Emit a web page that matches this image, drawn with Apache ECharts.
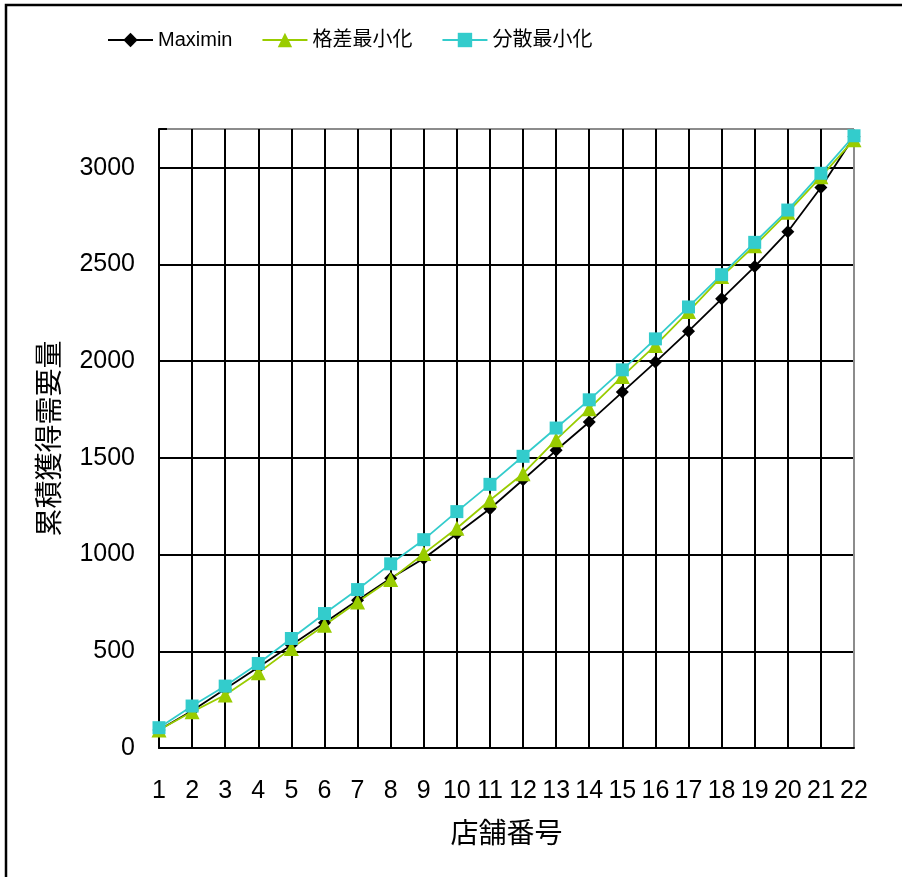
<!DOCTYPE html>
<html>
<head>
<meta charset="utf-8">
<script src="https://cdn.jsdelivr.net/npm/echarts@6/dist/echarts.min.js"></script>
<style>
  html, body { margin: 0; padding: 0; background: #fff; }
  #chartArea { width: 902px; height: 877px; }
</style>
</head>
<body>
<div id="chartArea"></div>
<script>
// 店舗番号
let shopIds = ['1', '2', '3', '4', '5', '6', '7', '8', '9', '10', '11',
    '12', '13', '14', '15', '16', '17', '18', '19', '20', '21', '22'];
let maximinData = [93, 193, 305, 417, 532, 647, 764, 878, 980, 1108, 1237,
    1387, 1539, 1685, 1840, 1995, 2155, 2322, 2489, 2669, 2898, 3160];
let gapMinData = [93, 187, 274, 389, 515, 635, 755, 871, 1005, 1136, 1281,
    1418, 1594, 1754, 1921, 2081, 2256, 2437, 2597, 2769, 2953, 3145];
let varMinData = [105, 217, 320, 437, 566, 695, 819, 952, 1077, 1222, 1363,
    1508, 1654, 1800, 1955, 2115, 2280, 2447, 2614, 2781, 2971, 3165];
let seriesNames = ['Maximin', '格差最小化', '分散最小化'];

let fontName = '"Liberation Sans", "Noto Sans CJK JP", sans-serif';
let cjkFont = '"Noto Sans CJK JP", sans-serif';
let gridGray = '#8c8c8c';

let myChart = echarts.init(document.getElementById('chartArea'));

// last vertical line is the grey frame of the plot area
let xLineColors = shopIds.map(function (d, i) {
    return i === shopIds.length - 1 ? gridGray : '#000';
});
// y: 0..3000 every 500, then the top edge at 3200
let yLineColors = ['#000', '#000', '#000', '#000', '#000', '#000', '#000', gridGray];

let option = {
    animation: false,
    backgroundColor: '#fff',
    textStyle: {fontFamily: fontName, color: '#000'},
    graphic: [{
        type: 'rect',
        shape: {x: 6, y: 5, width: 1000, height: 1000},
        style: {fill: 'none', stroke: '#000', lineWidth: 2.5},
        silent: true
    }],
    legend: {
        left: 102,
        top: 25,
        itemWidth: 45,
        itemHeight: 18,
        itemGap: 29,
        textStyle: {fontSize: 20, color: '#000', fontFamily: fontName},
        data: seriesNames
    },
    grid: {
        left: 159,
        right: 48,
        top: 129,
        bottom: 129,
        containLabel: false
    },
    xAxis: {
        type: 'category',
        data: shopIds,
        boundaryGap: false,
        name: '店舗番号',
        nameLocation: 'middle',
        nameGap: 70,
        nameTextStyle: {fontSize: 28, color: '#000', fontFamily: cjkFont},
        axisLine: {lineStyle: {color: '#000', width: 2}},
        axisTick: {show: false},
        axisLabel: {fontSize: 25, color: '#000', margin: 31, fontFamily: fontName, interval: 0},
        splitLine: {show: true, lineStyle: {color: xLineColors, width: 2}}
    },
    yAxis: {
        type: 'value',
        min: 0,
        max: 3200,
        interval: 500,
        name: '累積獲得需要量',
        nameLocation: 'middle',
        nameGap: 97,
        nameTextStyle: {fontSize: 28, color: '#000', fontFamily: cjkFont},
        axisLine: {show: true, lineStyle: {color: '#000', width: 2}},
        axisTick: {show: true, inside: true, length: 8, lineStyle: {color: '#000', width: 2}},
        axisLabel: {
            fontSize: 25,
            color: '#000',
            margin: 24,
            padding: [7, 0, 0, 0],
            fontFamily: fontName,
            formatter: function (v) {
                return v % 500 === 0 ? String(v) : '';
            }
        },
        splitLine: {show: true, lineStyle: {color: yLineColors, width: 2}}
    },
    series: [
        {
            name: seriesNames[0],
            type: 'line',
            data: maximinData,
            symbol: 'diamond',
            symbolSize: 13,
            itemStyle: {color: '#000'},
            lineStyle: {color: '#000', width: 1.8}
        },
        {
            name: seriesNames[1],
            type: 'line',
            data: gapMinData,
            symbol: 'triangle',
            symbolSize: 15,
            itemStyle: {color: '#99cc00'},
            lineStyle: {color: '#99cc00', width: 1.8}
        },
        {
            name: seriesNames[2],
            type: 'line',
            data: varMinData,
            symbol: 'rect',
            symbolSize: 13,
            itemStyle: {color: '#33cccc'},
            lineStyle: {color: '#33cccc', width: 1.8}
        }
    ]
};

myChart.setOption(option);
</script>
</body>
</html>
